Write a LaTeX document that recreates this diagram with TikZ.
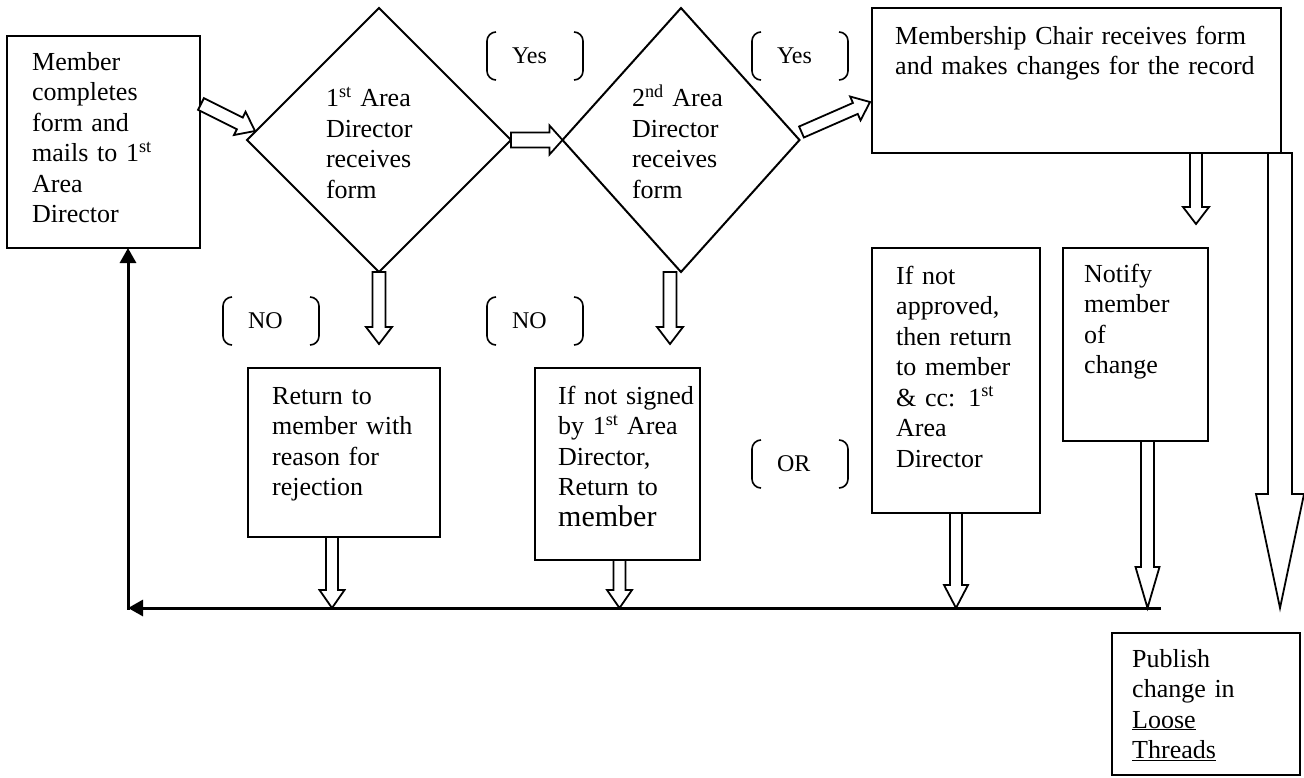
\documentclass[tikz,border=0pt]{standalone}
\usepackage{fontspec}
\setmainfont{Liberation Serif}
\usetikzlibrary{shapes.geometric, arrows.meta, calc}
\tikzstyle{card} = [rectangle, draw=black, line width=2pt, anchor=north west, inner sep=0pt, outer sep=0pt]
\tikzstyle{cardtext} = [anchor=base west, align=left, inner sep=0pt, text width=370pt]
\tikzstyle{decision} = [diamond, draw=black, line width=2pt, inner sep=0pt, outer sep=0pt, align=left, minimum height=264pt]
\tikzstyle{choice} = [rectangle, anchor=north west, inner xsep=25pt, inner ysep=0pt, outer sep=0pt, text width=46pt, minimum height=48pt, align=left, font=\fontsize{24}{26}\selectfont]
\tikzstyle{blockarrow} = [draw=black, fill=white, line width=1.8pt, line join=miter]
\tikzstyle{returnline} = [line width=3pt, -{Triangle[length=15pt,width=16pt]}]
\tikzstyle{bracketline} = [line width=1.6pt, rounded corners=9pt]

\newcommand{\hollowarrow}[5]{% tail, tip, shaft half width, head half width, head length
  \coordinate (hb) at ($(#2)!#5pt!(#1)$);
  \draw[blockarrow] ($(#1)!#3pt!90:(#2)$) -- ($(hb)!#3pt!90:(#2)$) -- ($(hb)!#4pt!90:(#2)$) -- (#2)
    -- ($(hb)!#4pt!-90:(#2)$) -- ($(hb)!#3pt!-90:(#2)$) -- ($(#1)!#3pt!-90:(#2)$) -- cycle;
}
\newcommand{\bracketpair}[1]{%
  \draw[bracketline] ($(#1.north west)+(9,0)$) -- (#1.north west) -- (#1.south west) -- ($(#1.south west)+(9,0)$);
  \draw[bracketline] ($(#1.north east)+(-9,0)$) -- (#1.north east) -- (#1.south east) -- ($(#1.south east)+(-9,0)$);
}

\begin{document}
\begin{tikzpicture}[x=1pt, y=-1pt, font=\fontsize{26}{30.5}\selectfont]
\useasboundingbox (0,0) rectangle (1304,777);

    \node (member) [card, minimum width=193pt, minimum height=212pt] at (7,36) {};
    \node (d1) [decision, minimum width=264pt, text width=106pt] at (379,140) {\rule{0pt}{25pt}1\textsuperscript{st} Area\\Director\\receives\\form};
    \node (d2) [decision, minimum width=237pt, text width=98pt] at (681,140) {\rule{0pt}{25pt}2\textsuperscript{nd} Area\\Director\\receives\\form};
    \node (chair) [card, minimum width=409pt, minimum height=145pt] at (872,8) {};
    \node (reject) [card, minimum width=192pt, minimum height=169pt] at (248,368) {};
    \node (signed) [card, minimum width=165pt, minimum height=192pt] at (535,368) {};
    \node (approved) [card, minimum width=168pt, minimum height=265pt] at (872,248) {};
    \node (notify) [card, minimum width=145pt, minimum height=193pt] at (1063,248) {};
    \node (publish) [card, minimum width=188pt, minimum height=142pt] at (1112,633) {};

    \node (membertext) [cardtext] at ($(member.north west)+(25,34)$) {Member\\completes\\form and\\mails to 1\textsuperscript{st}\\Area\\Director};
    \node (chairtext) [cardtext] at ($(chair.north west)+(23,36)$) {Membership Chair receives form\\and makes changes for the record};
    \node (rejecttext) [cardtext] at ($(reject.north west)+(24,36)$) {Return to\\member with\\reason for\\rejection};
    \node (signedtext) [cardtext] at ($(signed.north west)+(23,36)$) {If not signed\\by 1\textsuperscript{st} Area\\Director,\\Return to\\{\fontsize{30}{30}\selectfont member}};
    \node (approvedtext) [cardtext] at ($(approved.north west)+(24,36)$) {If not\\approved,\\then return\\to member\\\& cc: 1\textsuperscript{st}\\Area\\Director};
    \node (notifytext) [cardtext] at ($(notify.north west)+(21,34)$) {Notify\\member\\of\\change};
    \node (publishtext) [cardtext] at ($(publish.north west)+(20,34)$) {Publish\\change in\\\underline{Loose}\\\underline{Threads}};

    \node (yes1) [choice] at (487,32) {Yes};
    \node (yes2) [choice] at (752,32) {Yes};
    \node (no1) [choice] at (223,297) {NO};
    \node (no2) [choice] at (487,297) {NO};
    \node (or1) [choice] at (752,440) {OR};
    \bracketpair{yes1}
    \bracketpair{yes2}
    \bracketpair{no1}
    \bracketpair{no2}
    \bracketpair{or1}

    \coordinate (loopend) at (1161,608);
    \coordinate (loopcorner) at (128,608);
    \draw [returnline] (loopend) -- (loopcorner);
    \draw [returnline, shorten <=-1.5pt] (loopcorner) -- (loopcorner |- member.south);

    \coordinate (m2d) at ($(member.north east)+(1,68)$);
    \coordinate (m2dtip) at ($(d1.west)+(8,-9)$);
    \coordinate (d2c) at ($(d2.east)+(2,-8)$);
    \coordinate (d2ctip) at ($(chair.south west)+(-2,-51)$);
    \coordinate (c2n) at ($(chair.south east)+(-85,0)$);
    \coordinate (c2ntip) at ($(c2n |- notify.north)+(0,-24)$);
    \coordinate (c2p) at ($(chair.south east)+(-1,0)$);
    \coordinate (c2ptip) at ($(c2p |- publish.north)+(0,-25)$);
    \coordinate (d1r) at ($(d1.south)+(0,72)$);
    \coordinate (d2n) at ($(d2.south)+(-11,0)$);
    \coordinate (d2r) at ($(d2n)+(0,72)$);
    \coordinate (r2l) at ($(reject.south)+(-12,0)$);
    \coordinate (r2ltip) at (r2l |- loopend);
    \coordinate (s2l) at ($(signed.south)+(2,0)$);
    \coordinate (s2ltip) at (s2l |- loopend);
    \coordinate (a2ltip) at (approved.south |- loopend);
    \coordinate (n2l) at ($(notify.south)+(12,0)$);
    \coordinate (n2ltip) at (n2l |- loopend);

    \hollowarrow{m2d}{m2dtip}{6.5}{13}{17}
    \hollowarrow{d1.east}{d2.west}{7.5}{14.5}{13}
    \hollowarrow{d2c}{d2ctip}{6}{13}{16}
    \hollowarrow{c2n}{c2ntip}{6}{13}{17}
    \hollowarrow{c2p}{c2ptip}{12}{24}{114}
    \hollowarrow{d1.south}{d1r}{6.5}{13}{17}
    \hollowarrow{d2n}{d2r}{6.5}{13}{17}
    \hollowarrow{r2l}{r2ltip}{6}{12.5}{18}
    \hollowarrow{s2l}{s2ltip}{6}{12.5}{18}
    \hollowarrow{approved.south}{a2ltip}{6}{12}{23}
    \hollowarrow{n2l}{n2ltip}{6.5}{12}{41}

\end{tikzpicture}
\end{document}
